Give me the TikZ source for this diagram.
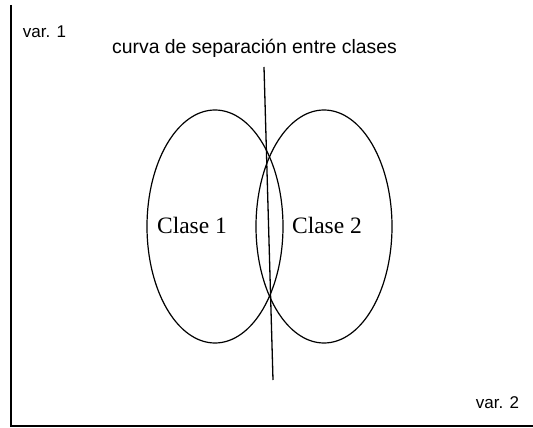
\documentclass[tikz,border=0pt]{standalone}
\usepackage{fontspec}
\setmainfont{Liberation Serif}
\newfontfamily\arialf{Liberation Sans}
\usetikzlibrary{shapes.geometric}
\begin{document}
\begin{tikzpicture}[x=1pt,y=-1pt,
  axisline/.style={line width=1.6pt},
  classell/.style={draw, ellipse, line width=1.2pt, inner sep=0pt, minimum width=136pt, minimum height=233pt},
  sepline/.style={line width=1.3pt},
  saslabel/.style={font=\arialf\fontsize{17}{20}\selectfont, inner sep=0pt},
  titlelabel/.style={font=\arialf\fontsize{19.4}{22}\selectfont, inner sep=0pt},
  classlabel/.style={font=\fontsize{23.5}{26}\selectfont, inner sep=0pt}]
\useasboundingbox (0,0) rectangle (533,428);
\fill[white] (0,0) rectangle (533,428);
\coordinate (ytop) at (11,5);
\coordinate (origin) at (11,426);
\coordinate (xend) at (533,426);
\draw[axisline] (ytop) -- (origin) -- (xend);
\node[classell] (c1) at (215,226.5) {};
\node[classell] (c2) at (324,226.5) {};
\coordinate (stop) at (264,67);
\coordinate (sbot) at (273,380);
\draw[sepline] (stop) -- (sbot);
\node[titlelabel] (title) at (254.5,48) {curva de separación entre clases};
\node[saslabel] (v1) at (44.5,32) {var. 1};
\node[saslabel] (v2) at (497.5,403) {var. 2};
\node[classlabel] (l1) at (192,225) {Clase 1};
\node[classlabel] (l2) at (327,225) {Clase 2};
\end{tikzpicture}
\end{document}
